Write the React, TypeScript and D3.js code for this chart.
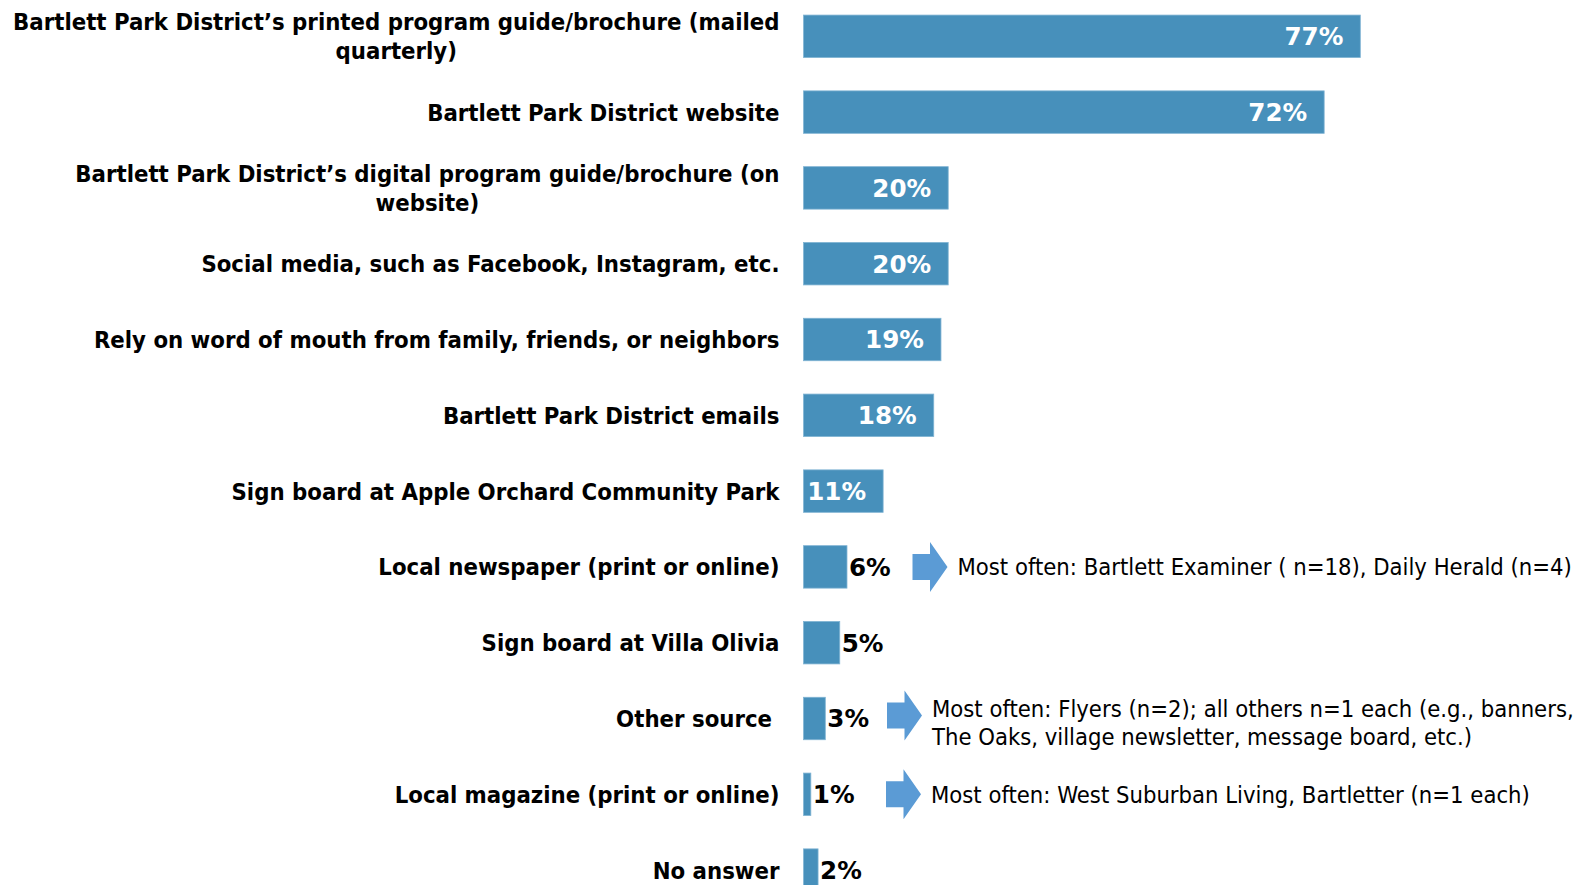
import React, { useEffect, useRef } from "react";
import * as d3 from "d3";

const categories = [
  "Bartlett Park District’s printed program guide/brochure (mailed\nquarterly)",
  "Bartlett Park District website",
  "Bartlett Park District’s digital program guide/brochure (on\nwebsite)",
  "Social media, such as Facebook, Instagram, etc.",
  "Rely on word of mouth from family, friends, or neighbors",
  "Bartlett Park District emails",
  "Sign board at Apple Orchard Community Park",
  "Local newspaper (print or online)",
  "Sign board at Villa Olivia",
  "Other source\u00a0",
  "Local magazine (print or online)",
  "No answer",
];
const values = [77, 72, 20, 20, 19, 18, 11, 6, 5, 3, 1, 2];

const noteCategories = [
  "Local newspaper (print or online)",
  "Other source\u00a0",
  "Local magazine (print or online)",
];
const noteTexts = [
  "Most often: Bartlett Examiner ( n=18), Daily Herald (n=4)",
  "Most often: Flyers (n=2); all others n=1 each (e.g., banners,\nThe Oaks, village newsletter, message board, etc.)",
  "Most often: West Suburban Living, Bartletter (n=1 each)",
];

const W = 1581;
const H = 885;
const BAR = "#4790bb";
const ARROW = "#5b9bd5";
const LABEL_FONT = "'DejaVu Sans Condensed', 'DejaVu Sans', sans-serif";
const VALUE_FONT = "'DejaVu Sans', sans-serif";
const LABEL_SIZE = 23.7;
const VALUE_SIZE = 24.6;
const NOTE_FONT = "'DejaVu Sans Condensed', 'DejaVu Sans', sans-serif";
const NOTE_SIZE = 23.6;
const LABEL_RIGHT = 779.5;
const NOTE_ARROW_X = [912.5, 887, 886];

export default function App() {
  const ref = useRef<SVGSVGElement>(null);

  useEffect(() => {
    const svg = d3.select(ref.current);
    svg.selectAll("*").remove();

    const x = d3.scaleLinear().domain([0, 100]).range([803.6, 1526.6]);
    const y = d3
      .scaleBand<string>()
      .domain(categories)
      .range([-1.6, 908])
      .paddingInner(0.44)
      .paddingOuter(0.22);
    const cy = (c: string) => (y(c) as number) + y.bandwidth() / 2;

    // bars
    svg
      .append("g")
      .selectAll("rect")
      .data(categories)
      .join("rect")
      .attr("x", x(0))
      .attr("y", (c) => y(c) as number)
      .attr("width", (c, i) => x(values[i]) - x(0))
      .attr("height", y.bandwidth())
      .attr("fill", BAR)
      .attr("stroke", "#7fb3d3")
      .attr("stroke-width", 0.8);

    // value labels
    svg
      .append("g")
      .selectAll("text")
      .data(categories)
      .join("text")
      .attr("x", (c, i) => (values[i] >= 10 ? x(values[i]) - 17 : x(values[i]) + 2))
      .attr("y", (c) => cy(c))
      .attr("dy", "0.36em")
      .attr("text-anchor", (c, i) => (values[i] >= 10 ? "end" : "start"))
      .attr("fill", (c, i) => (values[i] >= 10 ? "#ffffff" : "#000000"))
      .style("font-family", VALUE_FONT)
      .style("font-weight", "bold")
      .style("font-size", VALUE_SIZE + "px")
      .text((c, i) => values[i] + "%");

    // category labels
    const lg = svg.append("g");
    categories.forEach((c) => {
      const lines = c.split("\n");
      const center = cy(c);
      if (lines.length === 1) {
        lg.append("text")
          .attr("x", LABEL_RIGHT)
          .attr("y", center)
          .attr("dy", "0.36em")
          .attr("text-anchor", "end")
          .style("font-family", LABEL_FONT)
          .style("font-weight", "bold")
          .style("font-size", LABEL_SIZE + "px")
          .style("white-space", "pre")
          .text(lines[0]);
      } else {
        const t1 = lg
          .append("text")
          .attr("x", LABEL_RIGHT)
          .attr("y", center - 14.6)
          .attr("dy", "0.36em")
          .attr("text-anchor", "end")
          .style("font-family", LABEL_FONT)
          .style("font-weight", "bold")
          .style("font-size", LABEL_SIZE + "px")
          .text(lines[0]);
        const w1 = (t1.node() as SVGTextElement).getComputedTextLength();
        lg.append("text")
          .attr("x", LABEL_RIGHT - w1 / 2)
          .attr("y", center + 14.6)
          .attr("dy", "0.36em")
          .attr("text-anchor", "middle")
          .style("font-family", LABEL_FONT)
          .style("font-weight", "bold")
          .style("font-size", LABEL_SIZE + "px")
          .text(lines[1]);
      }
    });

    // notes with arrows
    const ng = svg.append("g");
    noteCategories.forEach((c, i) => {
      const ax = NOTE_ARROW_X[i];
      const ay = cy(c) - (i === 1 ? 3 : 0);
      const path = d3.path();
      path.moveTo(ax, ay - 13);
      path.lineTo(ax + 17.5, ay - 13);
      path.lineTo(ax + 17.5, ay - 25);
      path.lineTo(ax + 35, ay);
      path.lineTo(ax + 17.5, ay + 25);
      path.lineTo(ax + 17.5, ay + 13);
      path.lineTo(ax, ay + 13);
      path.closePath();
      ng.append("path").attr("d", path.toString()).attr("fill", ARROW);

      const lines = noteTexts[i].split("\n");
      const tc = cy(c) + (lines.length > 1 ? 4 : 0);
      lines.forEach((ln, k) => {
        ng.append("text")
          .attr("x", ax + 45)
          .attr("y", tc + (k - (lines.length - 1) / 2) * 28.3)
          .attr("dy", "0.36em")
          .style("font-family", NOTE_FONT)
          .style("font-size", NOTE_SIZE + "px")
          .attr("fill", "#000")
          .text(ln);
      });
    });
  }, []);

  return (
    <svg
      ref={ref}
      width={W}
      height={H}
      style={{ position: "absolute", left: 0, top: 0, background: "#fff" }}
    />
  );
}
